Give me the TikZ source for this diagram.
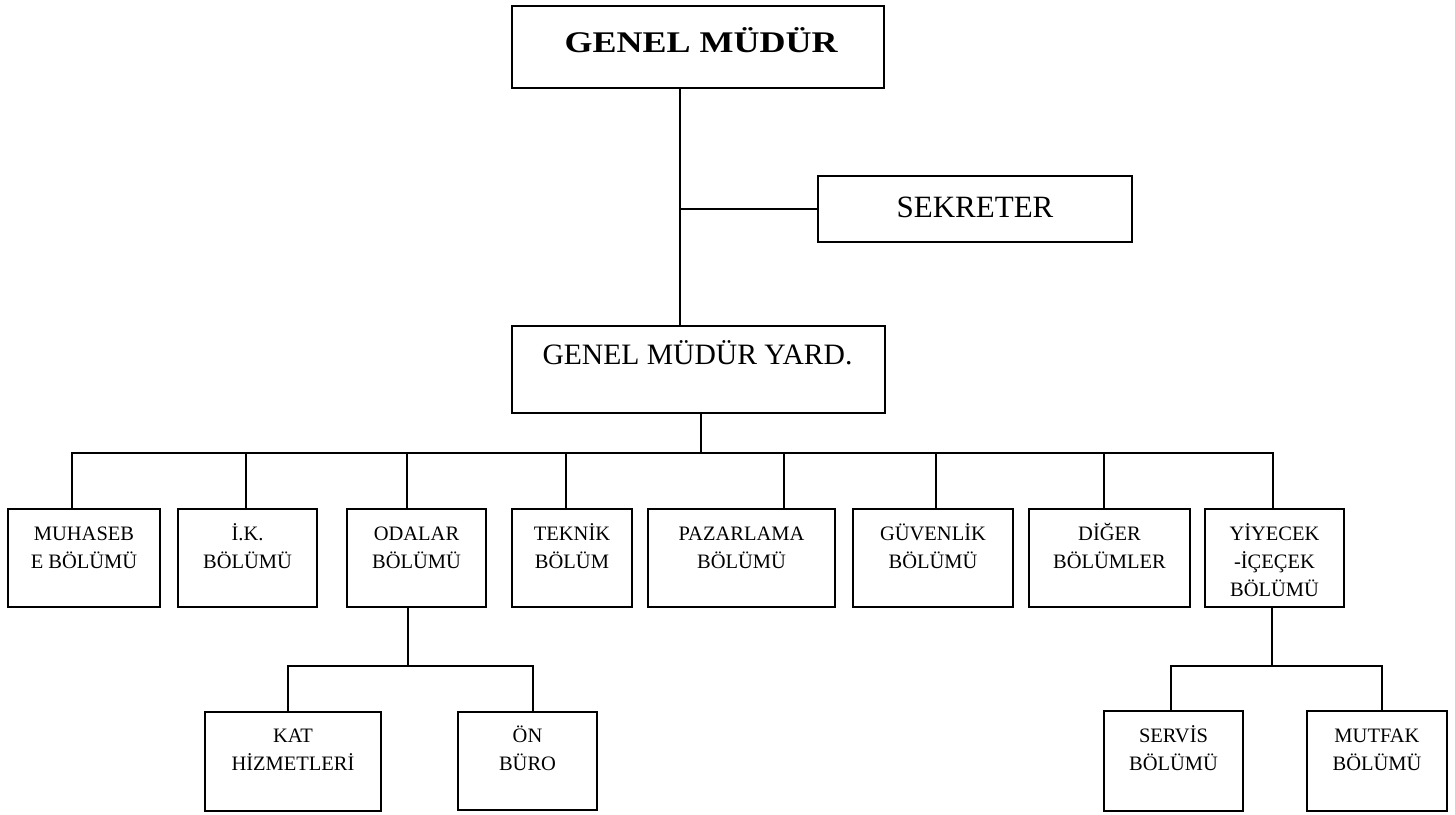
\documentclass[tikz,border=0pt]{standalone}
\usepackage{fontspec}
\setmainfont{Liberation Serif}
\begin{document}
\begin{tikzpicture}[x=1pt,y=-1pt,
  box/.style={draw, line width=1.4pt, inner sep=0pt, fill=white},
  link/.style={line width=1.4pt},
  lbl/.style={align=center, anchor=base, inner sep=0pt},
  small/.style={lbl, font=\fontsize{20.5}{28}\selectfont}]
\useasboundingbox (0,0) rectangle (1455,814);

% boxes
\node[box, minimum width=372, minimum height=82] (gm)  at (698,47) {};
\node[box, minimum width=314, minimum height=66] (sek) at (975,209) {};
\node[box, minimum width=373, minimum height=87] (gmy) at (698.5,369.5) {};

\node[box, minimum width=152, minimum height=98] (muh) at (84,558) {};
\node[box, minimum width=139, minimum height=98] (ik)  at (247.5,558) {};
\node[box, minimum width=139, minimum height=98] (oda) at (416.5,558) {};
\node[box, minimum width=120, minimum height=98] (tek) at (572,558) {};
\node[box, minimum width=187, minimum height=98] (paz) at (741.5,558) {};
\node[box, minimum width=160, minimum height=98] (guv) at (933,558) {};
\node[box, minimum width=161, minimum height=98] (dig) at (1109.5,558) {};
\node[box, minimum width=139, minimum height=98] (yiy) at (1274.5,558) {};

\node[box, minimum width=176, minimum height=99]  (kat) at (293,761.5) {};
\node[box, minimum width=139, minimum height=98]  (on)  at (527.5,761) {};
\node[box, minimum width=139, minimum height=100] (ser) at (1173.5,761) {};
\node[box, minimum width=140, minimum height=100] (mut) at (1377,761) {};

% labels (anchored at the baseline of their last line)
\node[lbl, font=\fontsize{30}{34}\selectfont\bfseries] (tgm) at (701,52) {\scalebox{1.2}[1]{GENEL MÜDÜR}};
\node[lbl, font=\fontsize{31}{36}\selectfont] (tsek) at (975,217) {SEKRETER};
\node[lbl, font=\fontsize{29.6}{34}\selectfont] (tgmy) at (697.5,364) {GENEL MÜDÜR YARD.};

\node[small] (tmuh) at (84,568) {MUHASEB\\E BÖLÜMÜ};
\node[small] (tik)  at (247.5,568) {İ.K.\\BÖLÜMÜ};
\node[small] (toda) at (416.5,568) {ODALAR\\BÖLÜMÜ};
\node[small] (ttek) at (572,568) {TEKNİK\\BÖLÜM};
\node[small] (tpaz) at (741.5,568) {PAZARLAMA\\BÖLÜMÜ};
\node[small] (tguv) at (933,568) {GÜVENLİK\\BÖLÜMÜ};
\node[small] (tdig) at (1109.5,568) {DİĞER\\BÖLÜMLER};
\node[small] (tyiy) at (1274.5,596) {YİYECEK\\-İÇEÇEK\\BÖLÜMÜ};

\node[small] (tkat) at (293,770) {KAT\\HİZMETLERİ};
\node[small] (ton)  at (527.5,770) {ÖN\\BÜRO};
\node[small] (tser) at (1173.5,770) {SERVİS\\BÖLÜMÜ};
\node[small] (tmut) at (1377,770) {MUTFAK\\BÖLÜMÜ};

% bus points
\coordinate (trunk) at (680,0);
\coordinate (bus) at (0,453);
\coordinate (odabus) at (0,666);
\coordinate (yiybus) at (0,666);

% top trunk and secretary branch
\draw[link] (gm.south -| trunk) -- (gmy.north -| trunk);
\draw[link] (sek.west) -- (sek.west -| trunk);

% main bus to departments
\draw[link] (gmy.south -| 701,0) -- (bus -| 701,0);
\draw[link] (muh.north -| 72,0) -- (bus -| 72,0) -- (bus -| 1273,0) -- (yiy.north -| 1273,0);
\foreach \n/\x in {ik/246, oda/407, tek/566, paz/784, guv/936, dig/1104}
  \draw[link] (\n.north -| \x,0) -- (bus -| \x,0);

% rooms division
\draw[link] (oda.south -| 408,0) -- (odabus -| 408,0);
\draw[link] (kat.north -| 288,0) -- (odabus -| 288,0) -- (odabus -| 533,0) -- (on.north -| 533,0);

% food and beverage division
\draw[link] (yiy.south -| 1272,0) -- (yiybus -| 1272,0);
\draw[link] (ser.north -| 1171,0) -- (yiybus -| 1171,0) -- (yiybus -| 1382,0) -- (mut.north -| 1382,0);
\end{tikzpicture}
\end{document}
